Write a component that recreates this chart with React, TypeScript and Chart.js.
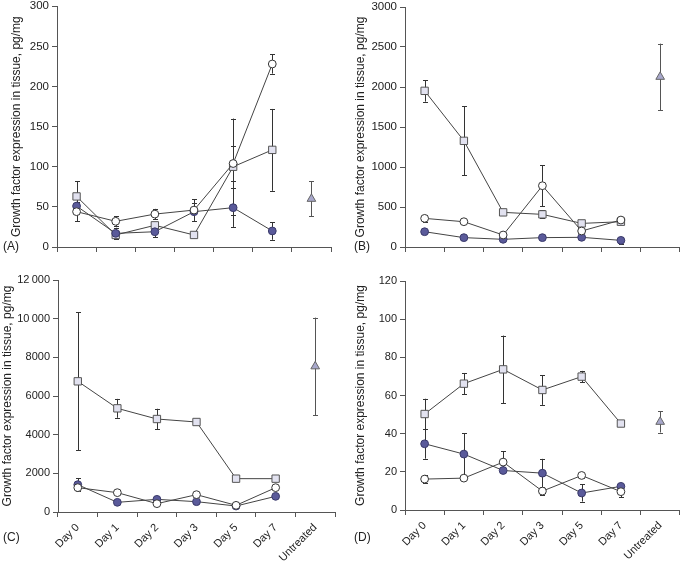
import React, { useEffect, useRef } from "react";
import { Chart, registerables } from "chart.js";
Chart.register(...registerables);

const categories = ["Day 0", "Day 1", "Day 2", "Day 3", "Day 5", "Day 7", "Untreated"];
const yTitle = "Growth factor expression in tissue, pg/mg";

// Panel A
const aOpen = [44, 32, 41, 46, 104, 228, null];
const aOpenErr = [12, 6, 6.5, 13.5, 22, 12, null];
const aFilled = [51, 17, 19, 44, 49, 20, null];
const aFilledErr = [10, 7, 7, 11, 24, 11, null];
const aSquare = [63, 15, 27, 15, 100, 121, null];
const aSquareErr = [19, 3, 4, 0, 60, 51, null];
const aTri = [null, null, null, null, null, null, 60];
const aTriErr = [null, null, null, null, null, null, 22];

// Panel B
const bOpen = [358, 316, 150, 766, 200, 337, null];
const bOpenErr = [40, 30, 20, 255, 30, 30, null];
const bFilled = [191, 117, 96, 117, 121, 83, null];
const bFilledErr = [15, 10, 10, 10, 10, 40, null];
const bSquare = [1952, 1327, 433, 408, 295, 316, null];
const bSquareErr = [135, 430, 20, 50, 30, 20, null];
const bTri = [null, null, null, null, null, null, 2127];
const bTriErr = [null, null, null, null, null, null, 415];

// Panel C
const cOpen = [1259, 1000, 431, 897, 345, 1259, null];
const cOpenErr = [190, 60, 80, 60, 40, 60, null];
const cFilled = [1414, 500, 655, 534, 310, 810, null];
const cFilledErr = [345, 40, 60, 40, 40, 60, null];
const cSquare = [6759, 5362, 4810, 4655, 1724, 1724, null];
const cSquareErr = [3560, 490, 530, 60, 60, 60, null];
const cTri = [null, null, null, null, null, null, 7534];
const cTriErr = [null, null, null, null, null, null, 2520];

// Panel D
const dOpen = [16.2, 16.7, 25.1, 9.9, 18.1, 9.6, null];
const dOpenErr = [2.2, 0.5, 5.7, 2.3, 1.5, 2.8, null];
const dFilled = [34.7, 29.3, 20.7, 19.3, 8.9, 12.4, null];
const dFilledErr = [7.8, 10.8, 1, 7.5, 4.5, 1, null];
const dSquare = [50.3, 66.2, 73.7, 62.9, 69.9, 45.3, null];
const dSquareErr = [8, 5.6, 17.7, 7.8, 3, 0, null];
const dTri = [null, null, null, null, null, null, 46.2];
const dTriErr = [null, null, null, null, null, null, 5.6];

const FONT = "'Liberation Sans', Arial, sans-serif";
const AXIS = "#555";
const LINE = "#444";

type Panel = {
  label: string;
  max: number;
  step: number;
  showX: boolean;
  tickSize: number;
  titlePad: number;
  open: (number | null)[]; openErr: (number | null)[];
  filled: (number | null)[]; filledErr: (number | null)[];
  square: (number | null)[]; squareErr: (number | null)[];
  tri: (number | null)[]; triErr: (number | null)[];
  left: number; top: number; w: number; h: number;
  area: { left: number; right: number; top: number; bottom: number };
  labelPos: { x: number; y: number };
};

const panels: Panel[] = [
  { label: "(A)", max: 300, step: 50, showX: false, tickSize: 11.5, titlePad: 9, open: aOpen, openErr: aOpenErr, filled: aFilled, filledErr: aFilledErr, square: aSquare, squareErr: aSquareErr, tri: aTri, triErr: aTriErr,
    left: 0, top: 0, w: 343, h: 270, area: { left: 57, right: 331, top: 5, bottom: 247 }, labelPos: { x: 3, y: 247 } },
  { label: "(B)", max: 3000, step: 500, showX: false, tickSize: 11.5, titlePad: 10, open: bOpen, openErr: bOpenErr, filled: bFilled, filledErr: bFilledErr, square: bSquare, squareErr: bSquareErr, tri: bTri, triErr: bTriErr,
    left: 343, top: 0, w: 343, h: 270, area: { left: 62, right: 342, top: 7, bottom: 247 }, labelPos: { x: 11, y: 247 } },
  { label: "(C)", max: 12000, step: 2000, showX: true, tickSize: 11, titlePad: 0, open: cOpen, openErr: cOpenErr, filled: cFilled, filledErr: cFilledErr, square: cSquare, squareErr: cSquareErr, tri: cTri, triErr: cTriErr,
    left: 0, top: 270, w: 343, h: 291, area: { left: 58, right: 335, top: 10, bottom: 242 }, labelPos: { x: 3, y: 268 } },
  { label: "(D)", max: 120, step: 20, showX: true, tickSize: 11, titlePad: 10, open: dOpen, openErr: dOpenErr, filled: dFilled, filledErr: dFilledErr, square: dSquare, squareErr: dSquareErr, tri: dTri, triErr: dTriErr,
    left: 343, top: 270, w: 343, h: 291, area: { left: 62, right: 342, top: 11, bottom: 240 }, labelPos: { x: 11, y: 268 } },
];

function fmt(v: number) {
  if (v >= 10000) {
    const s = String(v);
    return s.slice(0, s.length - 3) + "\u2009" + s.slice(s.length - 3);
  }
  return String(v);
}

const errorBarPlugin = {
  id: "errorBars",
  beforeDatasetsDraw(chart: any) {
    const ctx = chart.ctx;
    const yScale = chart.scales.y;
    chart.data.datasets.forEach((ds: any, i: number) => {
      const meta = chart.getDatasetMeta(i);
      const errs = ds.errors as (number | null)[];
      if (!errs) return;
      ds.data.forEach((v: number | null, j: number) => {
        const e = errs[j];
        if (v == null || e == null || e <= 0) return;
        const pt = meta.data[j];
        if (!pt) return;
        const x = Math.round(pt.x) + 0.5;
        const yTop = yScale.getPixelForValue(v + e);
        const yBot = yScale.getPixelForValue(Math.max(0, v - e));
        ctx.save();
        ctx.strokeStyle = ds.errorColor || "#333";
        ctx.lineWidth = 1;
        ctx.beginPath();
        ctx.moveTo(x, yTop);
        ctx.lineTo(x, yBot);
        ctx.moveTo(x - 2.5, Math.round(yTop) + 0.5);
        ctx.lineTo(x + 2.5, Math.round(yTop) + 0.5);
        ctx.moveTo(x - 2.5, Math.round(yBot) + 0.5);
        ctx.lineTo(x + 2.5, Math.round(yBot) + 0.5);
        ctx.stroke();
        ctx.restore();
      });
    });
  },
  afterDraw(chart: any) {
    const p = chart.options.plugins.panelLabel;
    if (!p) return;
    const ctx = chart.ctx;
    ctx.save();
    ctx.fillStyle = "#222";
    ctx.font = `12px ${FONT}`;
    ctx.textBaseline = "middle";
    ctx.textAlign = "left";
    ctx.fillText(p.text, p.x, p.y);
    ctx.restore();
  },
};

function PanelChart({ p }: { p: Panel }) {
  const ref = useRef<HTMLCanvasElement>(null);
  useEffect(() => {
    if (!ref.current) return;
    const common = { borderColor: LINE, borderWidth: 1, pointBorderWidth: 1, spanGaps: false, fill: false, tension: 0 };
    const chart = new Chart(ref.current, {
      type: "line",
      data: {
        labels: categories,
        datasets: [
          { ...common, label: "open", data: p.open, errors: p.openErr, pointStyle: "circle", pointRadius: 3.9, pointBackgroundColor: "#ffffff", pointBorderColor: "#333" } as any,
          { ...common, label: "filled", data: p.filled, errors: p.filledErr, pointStyle: "circle", pointRadius: 3.9, pointBackgroundColor: "#5a5a9a", pointBorderColor: "#3a3a6a" } as any,
          { ...common, label: "square", data: p.square, errors: p.squareErr, pointStyle: "rect", pointRadius: 5.2, pointBackgroundColor: "#e2e2f0", pointBorderColor: "#555" } as any,
          { ...common, label: "untreated", data: p.tri, errors: p.triErr, errorColor: "#555", showLine: false, pointStyle: "triangle", pointRadius: 5, pointBackgroundColor: "#a8a8cc", pointBorderColor: "#666" } as any,
        ],
      },
      options: {
        animation: false,
        responsive: false,
        devicePixelRatio: 1,
        layout: { padding: { left: 0, right: p.w - p.area.right, top: p.area.top, bottom: 0 } },
        plugins: {
          legend: { display: false },
          tooltip: { enabled: false },
          panelLabel: { text: p.label, x: p.labelPos.x, y: p.labelPos.y },
        } as any,
        scales: {
          x: {
            type: "category",
            offset: true,
            grid: { offset: true, drawOnChartArea: false, drawTicks: true, tickLength: 5, color: AXIS },
            border: { display: true, color: AXIS },
            ticks: {
              display: p.showX,
              minRotation: 45,
              maxRotation: 45,
              autoSkip: false,
              padding: 4,
              color: "#222",
              font: { family: FONT, size: 11 },
            },
            afterFit: (s: any) => {
              s.height = p.h - p.area.bottom;
              s.paddingLeft = 0;
              s.paddingRight = 0;
            },
          },
          y: {
            min: 0,
            max: p.max,
            ticks: { stepSize: p.step, color: "#222", padding: 3, font: { family: FONT, size: p.tickSize }, callback: (v: any) => fmt(Number(v)) },
            grid: { drawOnChartArea: false, drawTicks: true, tickLength: 5, color: AXIS },
            border: { display: true, color: AXIS },
            title: { display: true, text: yTitle, color: "#222", font: { family: FONT, size: 12 }, padding: { top: p.titlePad, bottom: 0 } },
            afterFit: (s: any) => {
              s.width = p.area.left;
              s.paddingTop = 0;
              s.paddingBottom = 0;
            },
          },
        },
      } as any,
      plugins: [errorBarPlugin],
    });
    return () => chart.destroy();
  }, [p]);
  return (
    <canvas
      ref={ref}
      width={p.w}
      height={p.h}
      style={{ position: "absolute", left: p.left, top: p.top, width: p.w, height: p.h, display: "block" }}
    />
  );
}

export default function App() {
  return (
    <div style={{ position: "fixed", left: 0, top: 0, width: 686, height: 561, background: "#fff", overflow: "hidden" }}>
      {panels.map((p) => (
        <PanelChart key={p.label} p={p} />
      ))}
    </div>
  );
}
